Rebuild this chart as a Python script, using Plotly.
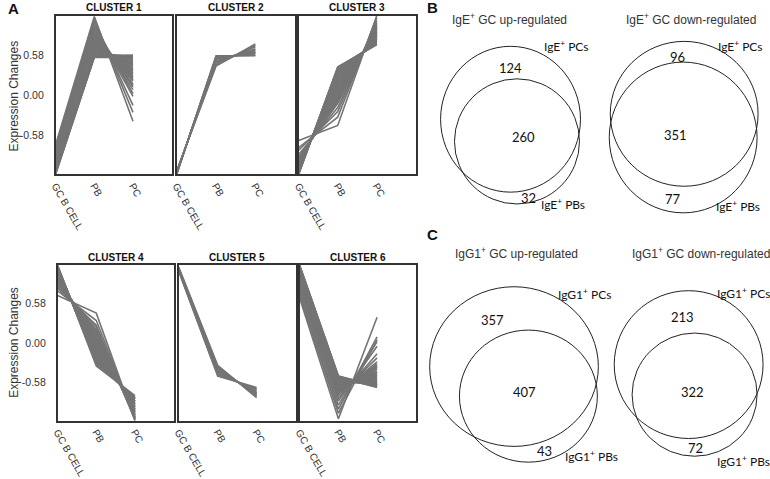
import plotly.graph_objects as go

W, H = 770, 479

# ---------------- data ----------------
stages = ["GC B CELL", "PB", "PC"]
y_tick_values = [-0.58, 0.0, 0.58]
y_tick_labels = ["-0.58", "0.00", "0.58"]
cluster_names = ["CLUSTER 1", "CLUSTER 2", "CLUSTER 3", "CLUSTER 4", "CLUSTER 5", "CLUSTER 6"]

# each row: expression change at [GC B CELL, PB, PC]
cluster_1 = [
    [-1.15, 0.55, 0.56], [-1.14, 0.56, 0.57], [-1.13, 0.55, 0.54], [-1.12, 0.57, 0.58],
    [-1.11, 0.56, 0.53], [-1.10, 0.58, 0.55], [-1.09, 0.60, 0.52], [-1.08, 0.61, 0.56],
    [-1.07, 0.62, 0.48], [-1.06, 0.64, 0.50], [-1.05, 0.65, 0.44], [-1.04, 0.67, 0.46],
    [-1.02, 0.68, 0.40], [-1.01, 0.70, 0.42], [-1.00, 0.71, 0.36], [-0.98, 0.73, 0.38],
    [-0.97, 0.75, 0.32], [-0.95, 0.77, 0.28], [-0.94, 0.79, 0.30], [-0.92, 0.81, 0.24],
    [-0.90, 0.83, 0.20], [-0.88, 0.86, 0.16], [-0.86, 0.89, 0.22], [-0.84, 0.92, 0.08],
    [-0.82, 0.95, 0.12], [-0.80, 0.98, -0.02], [-0.78, 1.02, 0.02], [-0.76, 1.06, -0.15],
    [-0.74, 1.10, -0.25], [-0.72, 1.14, -0.38], [-0.99, 0.72, 0.34], [-0.93, 0.80, 0.26],
    [-0.87, 0.87, 0.14], [-1.03, 0.66, 0.45],
]
cluster_2 = [
    [-1.15, 0.57, 0.57], [-1.15, 0.56, 0.58], [-1.14, 0.55, 0.60], [-1.14, 0.54, 0.61],
    [-1.13, 0.53, 0.62], [-1.13, 0.52, 0.63], [-1.12, 0.50, 0.65], [-1.12, 0.48, 0.67],
    [-1.11, 0.46, 0.70], [-1.11, 0.44, 0.72], [-1.10, 0.42, 0.74],
]
cluster_3 = [
    [-1.15, 0.41, 0.73], [-1.14, 0.40, 0.75], [-1.13, 0.38, 0.74], [-1.12, 0.36, 0.77],
    [-1.11, 0.34, 0.76], [-1.10, 0.32, 0.79], [-1.09, 0.30, 0.80], [-1.08, 0.27, 0.81],
    [-1.07, 0.25, 0.83], [-1.06, 0.23, 0.82], [-1.05, 0.21, 0.85], [-1.04, 0.18, 0.86],
    [-1.03, 0.16, 0.88], [-1.02, 0.13, 0.87], [-1.01, 0.11, 0.90], [-1.00, 0.08, 0.92],
    [-0.99, 0.06, 0.91], [-0.98, 0.03, 0.94], [-0.96, 0.00, 0.96], [-0.94, -0.04, 0.98],
    [-0.92, -0.08, 1.00], [-0.90, -0.12, 1.03], [-0.86, -0.18, 1.05], [-0.80, -0.24, 1.08],
    [-0.76, -0.32, 1.12], [-0.66, -0.44, 1.15],
    [-1.14, 0.39, 0.74], [-1.12, 0.37, 0.76], [-1.09, 0.31, 0.78], [-1.07, 0.26, 0.82],
    [-1.05, 0.22, 0.84], [-1.03, 0.17, 0.87], [-1.01, 0.12, 0.89], [-0.99, 0.07, 0.92],
    [-0.97, 0.02, 0.95], [-0.95, -0.02, 0.97], [-0.93, -0.06, 0.99], [-0.91, -0.10, 1.01],
]
cluster_4 = [
    [1.15, -0.34, -0.78], [1.14, -0.31, -0.80], [1.12, -0.28, -0.82], [1.11, -0.25, -0.83],
    [1.10, -0.22, -0.86], [1.08, -0.19, -0.87], [1.07, -0.16, -0.90], [1.05, -0.13, -0.91],
    [1.04, -0.10, -0.94], [1.02, -0.07, -0.95], [1.01, -0.04, -0.98], [0.99, -0.01, -0.99],
    [0.98, 0.02, -1.02], [0.96, 0.05, -1.03], [0.95, 0.08, -1.06], [0.93, 0.11, -1.07],
    [0.91, 0.14, -1.10], [0.89, 0.17, -1.11], [0.87, 0.20, -1.13], [0.84, 0.24, -1.10],
    [0.81, 0.26, -1.14], [0.77, 0.33, -1.12], [0.70, 0.44, -1.15],
    [1.13, -0.30, -0.81], [1.11, -0.27, -0.83], [1.09, -0.21, -0.86], [1.06, -0.15, -0.90],
    [1.03, -0.09, -0.94], [1.00, -0.03, -0.97], [0.97, 0.03, -1.01], [0.94, 0.09, -1.05],
    [0.90, 0.15, -1.09],
]
cluster_5 = [
    [1.12, -0.33, -0.81], [1.11, -0.35, -0.79], [1.11, -0.37, -0.77], [1.10, -0.39, -0.75],
    [1.10, -0.41, -0.74], [1.09, -0.43, -0.72], [1.08, -0.45, -0.70], [1.07, -0.47, -0.68],
    [1.06, -0.49, -0.66],
]
cluster_6 = [
    [1.15, -0.49, -0.65], [1.14, -0.50, -0.62], [1.13, -0.51, -0.66], [1.12, -0.52, -0.60],
    [1.11, -0.53, -0.64], [1.10, -0.54, -0.58], [1.09, -0.55, -0.62], [1.08, -0.56, -0.55],
    [1.07, -0.57, -0.60], [1.06, -0.58, -0.52], [1.05, -0.59, -0.58], [1.04, -0.60, -0.49],
    [1.03, -0.61, -0.55], [1.02, -0.62, -0.46], [1.01, -0.63, -0.50], [1.00, -0.64, -0.42],
    [0.99, -0.65, -0.47], [0.98, -0.66, -0.38], [0.97, -0.68, -0.43], [0.96, -0.70, -0.33],
    [0.94, -0.72, -0.36], [0.92, -0.75, -0.28], [0.90, -0.78, -0.22], [0.86, -0.82, -0.16],
    [0.82, -0.86, -0.05], [0.78, -0.92, 0.02], [0.74, -0.98, 0.09], [0.70, -1.04, 0.05],
    [0.66, -1.12, 0.38],
    [1.14, -0.49, -0.64], [1.12, -0.51, -0.62], [1.10, -0.53, -0.61], [1.08, -0.55, -0.58],
    [1.06, -0.57, -0.56], [1.04, -0.59, -0.53], [1.02, -0.61, -0.51], [1.00, -0.63, -0.47],
    [0.98, -0.65, -0.44], [0.96, -0.69, -0.39], [0.95, -0.71, -0.35], [0.93, -0.73, -0.31],
]
clusters = [cluster_1, cluster_2, cluster_3, cluster_4, cluster_5, cluster_6]

venn_titles = [
    "IgE<sup>+</sup> GC up-regulated", "IgE<sup>+</sup> GC down-regulated",
    "IgG1<sup>+</sup> GC up-regulated", "IgG1<sup>+</sup> GC down-regulated",
]
pcs_set_labels = ["IgE<sup>+</sup> PCs", "IgE<sup>+</sup> PCs", "IgG1<sup>+</sup> PCs", "IgG1<sup>+</sup> PCs"]
pbs_set_labels = ["IgE<sup>+</sup> PBs", "IgE<sup>+</sup> PBs", "IgG1<sup>+</sup> PBs", "IgG1<sup>+</sup> PBs"]
pcs_only = [124, 96, 357, 213]
shared = [260, 351, 407, 322]
pbs_only = [32, 77, 43, 72]

# ---------------- layout geometry (pixels) ----------------
panel_boxes = [  # x0, x1, ytop, ybottom
    (50, 167, 16, 177), (172, 291, 16, 177), (295, 413, 16, 177),
    (52, 169, 269, 427), (174, 292, 269, 427), (296, 413, 269, 427),
]
venn_title_pos = [(507, 19), (690, 19), (515, 257), (700, 257)]
pcs_circles = [(438, 579, 47, 195), (609, 758, 42, 189), (427, 597, 291, 453), (613, 763, 295, 445)]
pbs_circles = [(452, 578, 80, 207), (608, 757, 63, 216), (457, 596, 335, 469), (631, 757, 338, 463)]
pcs_only_pos = [(508, 69), (677, 58), (490, 325), (682, 322)]
shared_pos = [(522, 139), (675, 137), (523, 398), (692, 398)]
pbs_only_pos = [(527, 201), (672, 202), (543, 458), (695, 455)]
pcs_label_pos = [(540, 47), (716, 47), (554, 298), (715, 297)]
pbs_label_pos = [(537, 207), (714, 209), (561, 463), (715, 468)]


def fx(px):
    return px / W


def fy(py):
    return 1 - py / H


ARIAL = "Liberation Sans, Arial, sans-serif"
CALIBRI = "Lato, Carlito, Calibri, sans-serif"
LINE_COLOR = "#747474"
DARK = "#333333"

fig = go.Figure()
layout = dict(
    width=W, height=H, margin=dict(l=0, r=0, t=0, b=0),
    paper_bgcolor="white", plot_bgcolor="white", showlegend=False,
)
annotations = []
shapes = []

for i, profiles in enumerate(clusters):
    n = i + 1
    xs, ys = [], []
    for prof in profiles:
        xs += [0, 1, 2, None]
        ys += list(prof) + [None]
    fig.add_trace(go.Scatter(
        x=xs, y=ys, mode="lines", line=dict(color=LINE_COLOR, width=1.6),
        xaxis=f"x{n}", yaxis=f"y{n}", hoverinfo="skip", showlegend=False,
    ))
    x0, x1, yt, yb = panel_boxes[i]
    layout[f"xaxis{n}"] = dict(
        domain=[fx(x0), fx(x1)], range=[0, 3], anchor=f"y{n}",
        tickmode="array", tickvals=[0, 1, 2], ticktext=stages, tickangle=60,
        ticks="", showline=True, mirror=True, linecolor=DARK, linewidth=1.5,
        showgrid=False, zeroline=False, fixedrange=True,
        tickfont=dict(family=ARIAL, size=10, color=DARK),
    )
    layout[f"yaxis{n}"] = dict(
        domain=[fy(yb), fy(yt)], range=[-1.15, 1.15], anchor=f"x{n}",
        tickmode="array", tickvals=y_tick_values, ticktext=y_tick_labels,
        showticklabels=(n in (1, 4)), ticks="outside", ticklen=8, tickcolor="rgba(0,0,0,0)",
        showline=True, mirror=True, linecolor=DARK, linewidth=1.5,
        showgrid=False, zeroline=False, fixedrange=True,
        tickfont=dict(family=ARIAL, size=10.5, color=DARK),
    )
    annotations.append(dict(
        x=fx((x0 + x1) / 2), y=fy(yt - 8), xref="paper", yref="paper",
        text=f"<b>{cluster_names[i]}</b>", showarrow=False,
        font=dict(family=ARIAL, size=10, color="#111111"), xanchor="center", yanchor="middle",
    ))

# y-axis titles
for yc in (97, 347):
    annotations.append(dict(
        x=fx(8), y=fy(yc), xref="paper", yref="paper", text="Expression Changes",
        textangle=-90, showarrow=False, font=dict(family=ARIAL, size=12, color=DARK),
        xanchor="center", yanchor="middle",
    ))

# panel letters
for letter, (px, py) in zip(["A", "B", "C"], [(8, 9), (430, 8), (430, 238)]):
    annotations.append(dict(
        x=fx(px), y=fy(py), xref="paper", yref="paper", text=f"<b>{letter}</b>",
        showarrow=False, font=dict(family=ARIAL, size=15, color="#111111"),
        xanchor="center", yanchor="middle",
    ))

# Venn diagrams
for k in range(4):
    tx, ty = venn_title_pos[k]
    annotations.append(dict(
        x=fx(tx), y=fy(ty), xref="paper", yref="paper", text=venn_titles[k],
        showarrow=False, font=dict(family=ARIAL, size=12, color=DARK),
        xanchor="center", yanchor="middle",
    ))
    for (cx0, cx1, cy0, cy1) in (pcs_circles[k], pbs_circles[k]):
        shapes.append(dict(
            type="circle", xref="paper", yref="paper",
            x0=fx(cx0), x1=fx(cx1), y0=fy(cy1), y1=fy(cy0),
            line=dict(color="#222222", width=1), fillcolor="rgba(0,0,0,0)",
        ))
    for val, (vx, vy) in ((pcs_only[k], pcs_only_pos[k]), (shared[k], shared_pos[k]), (pbs_only[k], pbs_only_pos[k])):
        annotations.append(dict(
            x=fx(vx), y=fy(vy), xref="paper", yref="paper", text=str(val),
            showarrow=False, font=dict(family=CALIBRI, size=13, color="#111111"),
            xanchor="center", yanchor="middle",
        ))
    for lab, (lx, ly) in ((pcs_set_labels[k], pcs_label_pos[k]), (pbs_set_labels[k], pbs_label_pos[k])):
        annotations.append(dict(
            x=fx(lx), y=fy(ly), xref="paper", yref="paper", text=lab,
            showarrow=False, font=dict(family=CALIBRI, size=12, color="#111111"),
            xanchor="left", yanchor="middle",
        ))

layout["annotations"] = annotations
layout["shapes"] = shapes
fig.update_layout(**layout)
fig.write_html(
    "out.html",
    config={"displayModeBar": False},
    post_script="document.body.style.margin='0';document.body.style.overflow='hidden';",
)
